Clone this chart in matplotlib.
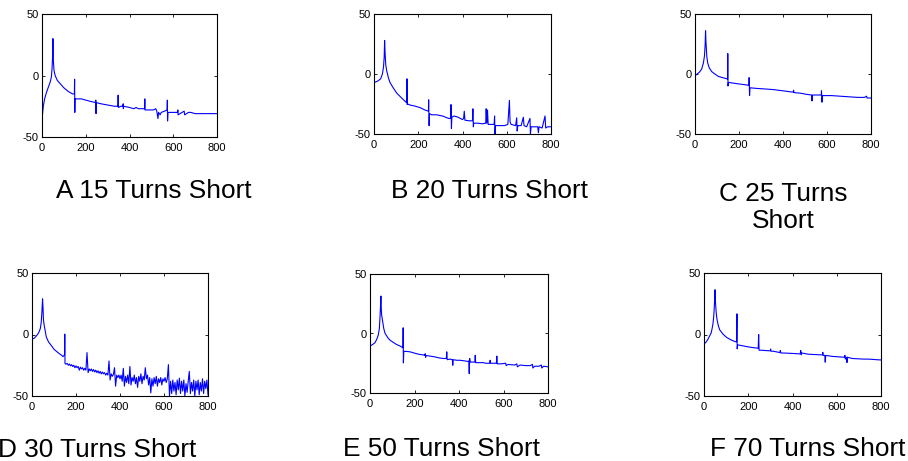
import numpy as np
import matplotlib
matplotlib.use("Agg")
import matplotlib.pyplot as plt

plt.rcParams['font.family'] = ['Liberation Sans', 'DejaVu Sans']
plt.rcParams['axes.unicode_minus'] = False

# ---- data (frequency, dB) ----
a_freq = [0, 2, 6, 12, 20, 30, 38, 43, 46, 48, 50, 52, 55, 60, 70, 85, 100, 120, 140, 148, 149, 150, 151,
          160, 180, 200, 220, 245, 246, 247, 248, 270, 300, 330, 347, 348, 349, 360, 370, 371, 372, 373,
          400, 420, 430, 440, 460, 469, 470, 471, 490, 510, 520, 525, 530, 533, 540, 545, 560, 572, 573,
          574, 576, 600, 620, 621, 622, 640, 650, 652, 670, 680, 700, 720, 740, 760, 780, 800]
a_db = [-42, -32, -25, -19, -14, -9, -5, -1, 6, 14, 30, 12, 4, 0, -4, -7, -10, -13, -15, -15, -3, -30, -19,
        -19, -19, -20, -21, -22, -20, -31, -22, -23, -24, -25, -25, -16, -26, -25, -25, -23, -27, -25,
        -26, -27, -26, -27, -27, -27, -19, -28, -28, -28, -27, -29, -35, -30, -32, -30, -29, -28, -20,
        -37, -30, -30, -30, -28, -32, -30, -29, -32, -30, -30, -31, -31, -31, -31, -31, -31]

b_freq = [0, 10, 20, 30, 38, 43, 46, 48, 50, 53, 57, 65, 72, 85, 103, 125, 145, 148, 149, 150, 152,
          165, 180, 208, 230, 246, 247, 249, 251, 260, 283, 310, 337, 347, 348, 350, 352, 362, 380, 400,
          405, 408, 411, 430, 445, 447, 449, 451, 470, 490, 505, 507, 510, 513, 516, 530, 543, 545, 547,
          549, 570, 590, 605, 612, 615, 620, 640, 645, 647, 650, 665, 675, 678, 690, 705, 707, 710, 725,
          740, 743, 746, 760, 773, 776, 785, 800]
b_db = [-7, -6.5, -5.5, -4, 0, 6, 14, 28, 18, 8, 3, -3, -7, -11, -16, -20, -23.5, -24, -4, -25.5, -25,
        -26, -26.5, -28, -30, -31, -21.5, -43, -33, -34, -34, -35, -37, -37, -25.5, -45.5, -36, -35, -36, -38,
        -37, -31, -38.5, -39, -39, -29, -44, -41, -41, -41.5, -41, -29, -41, -30, -42, -42, -42, -35, -50,
        -43, -43, -43, -42, -22, -40, -42, -43, -36.5, -47.5, -43, -43, -36, -43, -44, -37, -50, -44, -44,
        -44, -49, -44, -45, -35, -45, -44, -44]

c_freq = [0, 10, 20, 30, 38, 43, 46, 48, 50, 54, 58, 65, 76, 90, 106, 125, 145, 148, 149, 150, 152,
          170, 200, 230, 245, 246, 248, 250, 280, 320, 357, 400, 440, 447, 448, 450, 480, 508, 530, 532,
          534, 560, 574, 575, 577, 580, 620, 660, 700, 740, 770, 780, 782, 800]
c_db = [-1.5, 0, 1.5, 4, 9, 15, 24, 36, 26, 14, 9, 5, 2, 0, -2, -3, -4, -4.5, 17, -10, -7,
        -7.5, -8.3, -9, -9.5, -3, -18, -11.5, -12, -12.5, -13, -14, -15, -15, -13.5, -15.5, -16, -17, -17.5, -22.5,
        -17.5, -17.5, -17.5, -14, -23.5, -18, -18, -18.5, -19, -19.5, -19.5, -18.5, -20, -20]

d_freq_head = [0, 4, 10, 18, 25, 32, 38, 42, 45, 47, 48, 50, 52, 55, 60, 65, 75, 88, 100, 118, 135, 141,
               146, 148, 149, 150, 152]
d_db_head = [-3, -3.5, -3, -1.5, 0, 2, 5, 10, 18, 25, 29, 22, 12, 8, 3, -2, -6, -9, -12, -14.7, -17, -18,
             -17, -16, 0.3, -23.4, -24]
# 155 ... 800 Hz, one value every 5 Hz
d_freq_tail = list(range(155, 805, 5))
d_db_tail = [-24, -23.5, -25, -24, -25.5, -24.5, -26, -25, -27, -25.5,
             -27, -26, -29, -26.5, -28, -27, -29, -27.5, -29, -14.7,
             -31, -28, -29.5, -28, -30, -28.5, -30.5, -29, -31, -29.5,
             -31.5, -30, -32, -30.5, -32, -31, -33, -31.5, -33, -21.5,
             -37, -32, -34, -32.5, -27, -42, -33, -35, -33, -36,
             -33, -38, -27.5, -42, -34, -39, -33, -40, -26, -41,
             -35, -38, -33, -40, -35, -43, -34, -38, -32, -40,
             -34, -37, -27, -36, -33, -41, -35, -47.5, -36, -42,
             -35, -40, -34, -42, -36, -39, -35, -41, -36, -38,
             -35, -39, -36, -24.5, -50, -38, -48, -37, -46, -39,
             -49, -37, -45, -35.5, -48, -38, -46, -37, -50, -40,
             -47, -38, -30, -48, -39, -46, -37, -50, -38, -45,
             -37, -49, -39, -46, -36, -48, -38, -44, -37, -49]
d_freq = d_freq_head + d_freq_tail
d_db = d_db_head + d_db_tail

e_freq = [0, 10, 22, 30, 37, 42, 45, 47, 49, 50, 52, 57, 62, 68, 80, 90, 105, 120, 135, 146, 148, 149,
          150, 152, 160, 180, 200, 220, 240, 246, 248, 250, 252, 270, 293, 310, 330, 343, 345, 347, 360,
          370, 372, 374, 390, 405, 425, 440, 444, 446, 448, 450, 460, 471, 473, 475, 490, 510, 520, 538,
          540, 542, 560, 568, 570, 572, 590, 610, 612, 620, 650, 660, 662, 675, 700, 720, 730, 732, 740,
          760, 770, 772, 780, 800]
e_db = [-10.4, -9.5, -7.8, -5, -1.4, 4, 14, 22, 31.5, 24, 16, 10, 4, 0, -3.5, -5.6, -7.5, -9.3, -10.5, -11.8, -12, 4.8,
        -24.7, -15, -15, -15.4, -16.5, -17.5, -18, -18.5, -17, -20, -18.5, -19, -19.7, -20.5, -21, -21, -15.4, -22, -21.5,
        -22, -26.7, -22, -22.5, -22.5, -23, -23.5, -23, -33.7, -21, -24, -24, -24, -18.3, -24.5, -24.5, -24.5, -25, -25,
        -22.5, -25, -25, -25, -19, -25.5, -25.5, -25, -27, -26, -26.5, -25.5, -28, -26.5, -27, -27, -26, -29, -27.5,
        -27.5, -26.5, -29, -27.5, -28]

f_freq = [0, 10, 18, 26, 33, 40, 44, 47, 50, 52, 55, 59, 65, 71, 85, 101, 120, 139, 147, 149, 150, 152,
          170, 192, 215, 237, 245, 247, 249, 260, 290, 300, 301, 303, 313, 330, 343, 345, 347, 380, 410,
          435, 437, 440, 441, 470, 500, 535, 537, 539, 546, 548, 550, 580, 610, 635, 637, 639, 645, 646,
          648, 670, 700, 720, 740, 760, 780, 800]
f_db = [-7.9, -6, -3.8, -1, 1.6, 8, 14.7, 24, 36.4, 26, 18, 12, 7, 3.8, 0.5, -2.2, -4.2, -5.7, -6, 16.8, -11.7, -8.4,
        -9, -9.8, -10.5, -11, -11.2, 0, -12.8, -12.8, -13.2, -13.2, -11.8, -13.6, -13.6, -14.2, -14.7, -13, -15, -15.2, -15.5,
        -15.8, -13, -16.5, -15, -16, -16.3, -16.6, -14.5, -17, -17, -22.5, -17, -17.8, -18.2, -18.5, -17, -20, -18.5, -22.8,
        -18.5, -19.5, -19.8, -20, -20, -20.2, -20.5, -20.7]

titles = ['A 15 Turns Short', 'B 20 Turns Short', 'C 25 Turns\nShort',
          'D 30 Turns Short', 'E 50 Turns Short', 'F 70 Turns Short']
series = [(a_freq, a_db), (b_freq, b_db), (c_freq, c_db),
          (d_freq, d_db), (e_freq, e_db), (f_freq, f_db)]

W, H = 908, 461
# axes boxes in pixels: left, right, top, bottom
boxes = [(42, 217, 14, 137), (374, 551, 14, 134), (695, 871, 14, 134),
         (32, 208, 273, 396), (370, 548, 274, 393), (704, 881, 273, 396)]
# caption anchor (center x, baseline of last line) in pixels
captions = [(154, 198), (489.5, 198), (783, 228), (97.5, 456.5), (441.5, 456), (808, 456)]

fig = plt.figure(figsize=(W / 100, H / 100), dpi=100)

for (fx, fy), (l, r, t, b), title, (cx, cy) in zip(series, boxes, titles, captions):
    ax = fig.add_axes([l / W, 1 - b / H, (r - l) / W, (b - t) / H])
    ax.plot(fx, fy, color='#0000ff', lw=0.8)
    ax.set_xlim(0, 800)
    ax.set_ylim(-50, 50)
    ax.set_xticks([0, 200, 400, 600, 800])
    ax.set_yticks([-50, 0, 50])
    ax.tick_params(direction='in', top=True, right=True, length=2.5, width=0.6,
                   labelsize=8, pad=2.5)
    ax.tick_params(axis='x', pad=4)
    for s in ax.spines.values():
        s.set_linewidth(0.8)
    fig.text(cx / W, 1 - cy / H, title, ha='center', va='baseline', fontsize=18.9,
             linespacing=1.14, multialignment='center')

fig.savefig('out.png', dpi=100)
